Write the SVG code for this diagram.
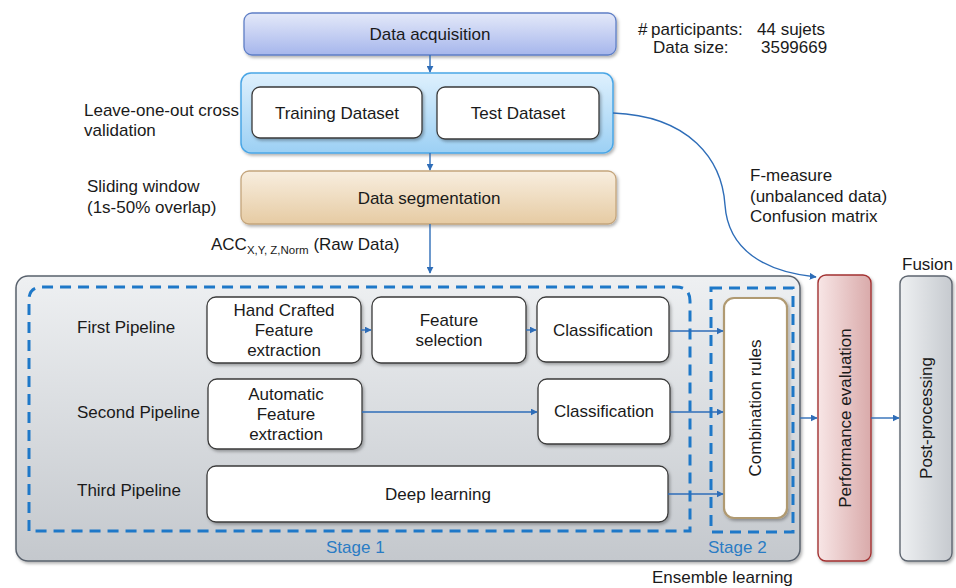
<svg xmlns="http://www.w3.org/2000/svg" width="956" height="588" viewBox="0 0 956 588">
  <defs>
    <linearGradient id="gAcq" x1="0" y1="0" x2="0" y2="1">
      <stop offset="0" stop-color="#e4e9f9"/>
      <stop offset="1" stop-color="#a6b6ec"/>
    </linearGradient>
    <linearGradient id="gSplit" x1="0" y1="0" x2="0" y2="1">
      <stop offset="0" stop-color="#def0fd"/>
      <stop offset="1" stop-color="#9cd0f4"/>
    </linearGradient>
    <linearGradient id="gSeg" x1="0" y1="0" x2="0" y2="1">
      <stop offset="0" stop-color="#f8eedf"/>
      <stop offset="1" stop-color="#e6cba3"/>
    </linearGradient>
    <linearGradient id="gGray" x1="0" y1="0" x2="0" y2="1">
      <stop offset="0" stop-color="#eef0f2"/>
      <stop offset="1" stop-color="#c4c8cd"/>
    </linearGradient>
    <linearGradient id="gPerf" x1="0" y1="0" x2="1" y2="0">
      <stop offset="0" stop-color="#f8e6e6"/>
      <stop offset="1" stop-color="#d9aaaa"/>
    </linearGradient>
    <linearGradient id="gPost" x1="0" y1="0" x2="1" y2="0">
      <stop offset="0" stop-color="#eef0f2"/>
      <stop offset="1" stop-color="#c6cacf"/>
    </linearGradient>
    <filter id="shadow" x="-10%" y="-10%" width="130%" height="130%">
      <feDropShadow dx="1.5" dy="2" stdDeviation="1.5" flood-color="#000" flood-opacity="0.3"/>
    </filter>
    <marker id="arr" viewBox="0 0 10 10" refX="9" refY="5" markerWidth="7" markerHeight="7" orient="auto" markerUnits="userSpaceOnUse">
      <path d="M0,0 L10,5 L0,10 z" fill="#2e6db8"/>
    </marker>
  </defs>
  <style>
    text { font-family: "Liberation Sans", Arial, sans-serif; fill: #1a1a1a; }
    .t { font-size: 17px; text-anchor: middle; }
    .lbl { font-size: 17px; }
    .stage { font-size: 17px; fill: #2a7cc4; }
    .box { fill: #ffffff; stroke: #3a3a3a; stroke-width: 1.3; filter: url(#shadow); }
    .dash { fill: none; stroke: #1e78c8; stroke-width: 3; stroke-dasharray: 11 7; }
    .conn { fill: none; stroke: #2e6db8; stroke-width: 1.4; marker-end: url(#arr); }
  </style>

  <rect width="956" height="588" fill="#ffffff"/>

  <!-- free labels -->
  <g id="labels">
    <text class="lbl" x="638" y="35">#<tspan x="651">participants:</tspan><tspan x="757">44 sujets</tspan></text>
    <text class="lbl" x="653" y="53">Data size:<tspan x="761">3599669</tspan></text>
    <text class="lbl" x="84" y="116">Leave-one-out cross</text>
    <text class="lbl" x="84" y="136">validation</text>
    <text class="lbl" x="87" y="192">Sliding window</text>
    <text class="lbl" x="87" y="213">(1s-50% overlap)</text>
    <text class="lbl" x="211" y="250">ACC<tspan font-size="11.5" dy="4">X,Y, Z,Norm</tspan><tspan dy="-4"> (Raw Data)</tspan></text>
    <text class="lbl" x="750" y="181">F-measure</text>
    <text class="lbl" x="750" y="202">(unbalanced data)</text>
    <text class="lbl" x="750" y="222">Confusion matrix</text>
    <text class="lbl" x="902" y="270">Fusion</text>
    <text class="lbl" x="652" y="583">Ensemble learning</text>
  </g>

  <!-- top of the pipeline -->
  <g id="acquisition">
    <rect x="244" y="13" width="372" height="42" rx="8" fill="url(#gAcq)" stroke="#5f7fc6" stroke-width="1.3" filter="url(#shadow)"/>
    <text class="t" x="430" y="40">Data acquisition</text>
  </g>

  <g id="validation">
    <rect x="241" y="73" width="372" height="80" rx="10" fill="url(#gSplit)" stroke="#4aa6e6" stroke-width="1.5" filter="url(#shadow)"/>
    <g id="training">
      <rect class="box" x="252" y="87" width="170" height="51" rx="8"/>
      <text class="t" x="337" y="119">Training Dataset</text>
    </g>
    <g id="test">
      <rect class="box" x="437" y="87" width="162" height="52" rx="8"/>
      <text class="t" x="518" y="119">Test Dataset</text>
    </g>
  </g>

  <g id="segmentation">
    <rect x="241" y="171" width="375" height="53" rx="8" fill="url(#gSeg)" stroke="#c4a57c" stroke-width="1.3" filter="url(#shadow)"/>
    <text class="t" x="429" y="204">Data segmentation</text>
  </g>

  <!-- ensemble learning block -->
  <g id="ensemble">
    <rect x="16" y="276" width="784" height="285" rx="12" fill="url(#gGray)" stroke="#58616c" stroke-width="1.5" filter="url(#shadow)"/>
    <path class="dash" d="M29,531 L29,300 Q29,287 42,287 L676,287 Q690,287 690,301 L690,531 Z"/>
    <rect class="dash" x="711" y="288" width="82" height="244"/>
    <text class="stage" x="326" y="553">Stage 1</text>
    <text class="stage" x="708" y="553">Stage 2</text>
    <text class="lbl" x="77" y="333">First Pipeline</text>
    <text class="lbl" x="77" y="418">Second Pipeline</text>
    <text class="lbl" x="77" y="496">Third Pipeline</text>
  </g>

  <g id="handcrafted">
    <rect class="box" x="207" y="297" width="154" height="66" rx="9"/>
    <text class="t" x="284" y="316">Hand Crafted</text>
    <text class="t" x="284" y="336">Feature</text>
    <text class="t" x="284" y="356">extraction</text>
  </g>
  <g id="selection">
    <rect class="box" x="372" y="297" width="154" height="66" rx="9"/>
    <text class="t" x="449" y="326">Feature</text>
    <text class="t" x="449" y="346">selection</text>
  </g>
  <g id="classification1">
    <rect class="box" x="537" y="297" width="132" height="65" rx="9"/>
    <text class="t" x="603" y="336">Classification</text>
  </g>
  <g id="automatic">
    <rect class="box" x="208" y="379" width="154" height="70" rx="9"/>
    <text class="t" x="286" y="400">Automatic</text>
    <text class="t" x="286" y="420">Feature</text>
    <text class="t" x="286" y="440">extraction</text>
  </g>
  <g id="classification2">
    <rect class="box" x="538" y="379" width="132" height="65" rx="9"/>
    <text class="t" x="604" y="417">Classification</text>
  </g>
  <g id="deep">
    <rect class="box" x="207" y="466" width="461" height="56" rx="9"/>
    <text class="t" x="438" y="500">Deep learning</text>
  </g>
  <g id="combination">
    <rect x="724" y="298" width="63" height="220" rx="10" fill="#ffffff" stroke="#b09a72" stroke-width="2.2" filter="url(#shadow)"/>
    <text class="t" transform="translate(761,408) rotate(-90)">Combination rules</text>
  </g>

  <g id="performance">
    <rect x="818" y="275" width="53" height="286" rx="8" fill="url(#gPerf)" stroke="#a33232" stroke-width="1.4" filter="url(#shadow)"/>
    <text class="t" transform="translate(851,418) rotate(-90)">Performance evaluation</text>
  </g>
  <g id="postprocessing">
    <rect x="900" y="276" width="52" height="285" rx="8" fill="url(#gPost)" stroke="#5e6670" stroke-width="1.4" filter="url(#shadow)"/>
    <text class="t" transform="translate(932,418) rotate(-90)">Post-processing</text>
  </g>

  <!-- connectors -->
  <g id="connectors">
    <path class="conn" d="M430,55 L430,72"/>
    <path class="conn" d="M430,153 L430,170"/>
    <path class="conn" d="M430,224 L430,273"/>
    <path class="conn" d="M613,113 C690,116 722,160 725,205 C728,250 765,272 816,277"/>
    <path class="conn" d="M361,330 L371,330"/>
    <path class="conn" d="M526,330 L536,330"/>
    <path class="conn" d="M670,331 L723,331"/>
    <path class="conn" d="M362,412 L537,412"/>
    <path class="conn" d="M670,412 L723,412"/>
    <path class="conn" d="M668,494 L723,494"/>
    <path class="conn" d="M800,418 L817,418"/>
    <path class="conn" d="M871,418 L899,418"/>
  </g>
</svg>
